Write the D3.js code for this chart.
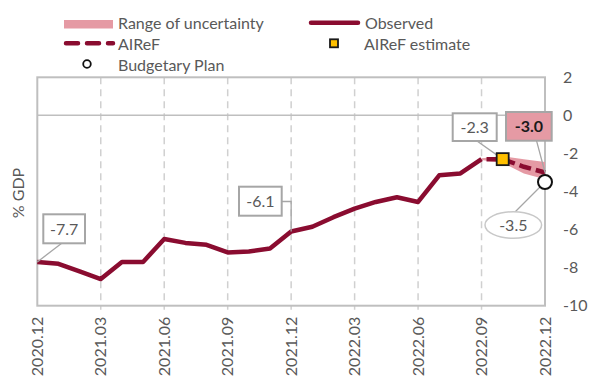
<!DOCTYPE html>
<html>
<head>
<meta charset="utf-8">
<script src="https://cdn.jsdelivr.net/npm/d3@7/dist/d3.min.js"></script>
<style>
  html, body { margin: 0; padding: 0; background: #fff; }
  svg { display: block; font-family: Lato, "Open Sans", sans-serif; }
</style>
</head>
<body>
<svg id="chart" width="590" height="378"></svg>
<script>
// Monthly general government balance, % of GDP
const months = ["2020.12","2021.01","2021.02","2021.03","2021.04","2021.05","2021.06",
  "2021.07","2021.08","2021.09","2021.10","2021.11","2021.12","2022.01","2022.02",
  "2022.03","2022.04","2022.05","2022.06","2022.07","2022.08","2022.09","2022.10",
  "2022.11","2022.12"];
const tickMonths = ["2020.12","2021.03","2021.06","2021.09","2021.12","2022.03","2022.06","2022.09","2022.12"];
const yTicks = [2, 0, -2, -4, -6, -8, -10];

const observed = [-7.7,-7.8,-8.2,-8.6,-7.7,-7.7,-6.5,-6.7,-6.8,-7.2,-7.15,-7.0,-6.1,
  -5.85,-5.35,-4.9,-4.55,-4.3,-4.55,-3.15,-3.05,-2.3];
const aireffMonths = ["2022.09","2022.10","2022.11","2022.12"];
const aireff = [-2.3, -2.3, -2.7, -3.0];
const bandHigh = [-2.25, -2.15, -2.3, -2.45];
const bandLow = [-2.35, -2.5, -3.05, -3.35];
const estimateMonth = "2022.10";
const estimateValue = -2.3;
const planMonth = "2022.12";
const planValue = -3.5;

const C = {
  line: "#8a0c30", band: "#e59aa4", grid: "#d0d0d0", frame: "#bfbfbf",
  text: "#595959", box: "#a6a6a6", yellow: "#ffc000"
};

// one decimal, plain hyphen for negatives
const fmt = v => v.toFixed(1);

const svg = d3.select("#chart");
const x = d3.scalePoint().domain(months).range([37.3, 545]);
const y = d3.scaleLinear().domain([-10, 2]).range([305.7, 77.3]);
const [x0, x1] = x.range();

// vertical quarterly gridlines
svg.append("g").selectAll("line")
  .data(tickMonths.slice(1, -1)).join("line")
  .attr("x1", d => x(d)).attr("x2", d => x(d))
  .attr("y1", y(2)).attr("y2", y(-10) + 4)
  .attr("stroke", C.grid).attr("stroke-width", 1.5).attr("stroke-dasharray", "7,5");

// zero line
svg.append("line").attr("x1", x0).attr("x2", x1)
  .attr("y1", y(0)).attr("y2", y(0))
  .attr("stroke", C.frame).attr("stroke-width", 1.5);

// frame
svg.append("rect").attr("x", x0).attr("y", y(2))
  .attr("width", x1 - x0).attr("height", y(-10) - y(2))
  .attr("fill", "none").attr("stroke", C.frame).attr("stroke-width", 2);

// right y axis labels
svg.append("g").selectAll("text").data(yTicks).join("text")
  .attr("x", 563).attr("y", d => y(d)).attr("dy", "0.35em")
  .attr("font-size", 16).attr("fill", C.text).text(d => String(d));

// x axis labels (rotated)
svg.append("g").selectAll("text").data(tickMonths).join("text")
  .attr("transform", d => `translate(${x(d)},${y(-10) + 11}) rotate(-90)`)
  .attr("text-anchor", "end").attr("dy", "0.35em")
  .attr("font-size", 16).attr("fill", C.text).text(d => d);

// y title
svg.append("text").attr("transform", "translate(18,193) rotate(-90)")
  .attr("text-anchor", "middle").attr("dy", "0.35em")
  .attr("font-size", 16).attr("fill", C.text).text("% GDP");

// uncertainty band
const bandData = aireffMonths.map((m, i) => ({ m, lo: bandLow[i], hi: bandHigh[i] }));
svg.append("path").datum(bandData)
  .attr("fill", C.band)
  .attr("d", d3.area().x(d => x(d.m)).y0(d => y(d.lo)).y1(d => y(d.hi)));

// observed line
svg.append("path").datum(observed)
  .attr("fill", "none").attr("stroke", C.line).attr("stroke-width", 4.5)
  .attr("stroke-linejoin", "round")
  .attr("d", d3.line().x((d, i) => x(months[i])).y(d => y(d)));

// AIReF projection line
svg.append("path").datum(aireff)
  .attr("fill", "none").attr("stroke", C.line).attr("stroke-width", 4.5)
  .attr("stroke-dasharray", "12,5").attr("stroke-dashoffset", 12)
  .attr("d", d3.line().x((d, i) => x(aireffMonths[i])).y(d => y(d)));

// leader lines
const lead = (pts, color) => svg.append("polyline")
  .attr("points", pts.map(p => p.join(",")).join(" "))
  .attr("fill", "none").attr("stroke", color || C.box).attr("stroke-width", 1.3);

lead([[61.7, 243.3], [x(months[0]), y(observed[0])]]);
lead([[281.7, 201.5], [x(months[12]), 201.5], [x(months[12]), y(observed[12])]]);
lead([[477, 141], [x(estimateMonth), y(estimateValue)]]);
lead([[536.5, 140.7], [x("2022.12"), y(aireff[3])]]);
lead([[515, 212], [x(planMonth), y(planValue)]]);

// estimate marker
svg.append("rect")
  .attr("x", x(estimateMonth) - 6).attr("y", y(estimateValue) - 6)
  .attr("width", 12).attr("height", 12)
  .attr("fill", C.yellow).attr("stroke", "#1a1a1a").attr("stroke-width", 1.8);

// budgetary plan marker
svg.append("circle").attr("cx", x(planMonth)).attr("cy", y(planValue)).attr("r", 7)
  .attr("fill", "#fff").attr("stroke", "#111").attr("stroke-width", 2);

// value boxes
function box(bx, by, w, h, txt, opts = {}) {
  svg.append("rect").attr("x", bx).attr("y", by).attr("width", w).attr("height", h)
    .attr("fill", opts.fill || "#fff").attr("stroke", C.box).attr("stroke-width", 2);
  svg.append("text").attr("x", bx + w / 2).attr("y", by + h / 2).attr("dy", "0.36em")
    .attr("text-anchor", "middle").attr("font-size", 16)
    .attr("font-weight", opts.bold ? 700 : 400)
    .attr("fill", opts.bold ? "#1a1a1a" : C.text).text(txt);
}
box(43.3, 214.3, 41.7, 29, fmt(observed[0]));
box(239, 186.7, 42.7, 29, fmt(observed[12]));
box(452.7, 113.3, 44, 27.7, fmt(estimateValue));
box(506, 112, 45.7, 28.7, fmt(aireff[3]), { fill: C.band, bold: true });

// budgetary plan label in ellipse
svg.append("ellipse").attr("cx", 513.3).attr("cy", 225).attr("rx", 28.3).attr("ry", 13.3)
  .attr("fill", "#fff").attr("stroke", "#c8c8c8").attr("stroke-width", 1.5);
svg.append("text").attr("x", 513.3).attr("y", 225).attr("dy", "0.36em")
  .attr("text-anchor", "middle").attr("font-size", 16).attr("fill", C.text)
  .text(fmt(planValue));

// legend
const lg = svg.append("g").attr("font-size", 16).attr("fill", C.text);
lg.append("rect").attr("x", 64).attr("y", 20).attr("width", 49).attr("height", 8.5).attr("fill", C.band);
lg.append("text").attr("x", 118).attr("y", 29).text("Range of uncertainty");
lg.append("line").attr("x1", 311).attr("x2", 358).attr("y1", 22.7).attr("y2", 22.7)
  .attr("stroke", C.line).attr("stroke-width", 4.5).attr("stroke-linecap", "round");
lg.append("text").attr("x", 365).attr("y", 29).text("Observed");
lg.append("line").attr("x1", 66).attr("x2", 113).attr("y1", 43.3).attr("y2", 43.3)
  .attr("stroke", C.line).attr("stroke-width", 4.5).attr("stroke-linecap", "round")
  .attr("stroke-dasharray", "12,9");
lg.append("text").attr("x", 118).attr("y", 50).text("AIReF");
lg.append("rect").attr("x", 330).attr("y", 39.3).attr("width", 8).attr("height", 8)
  .attr("fill", C.yellow).attr("stroke", "#1a1a1a").attr("stroke-width", 1.8);
lg.append("text").attr("x", 364).attr("y", 50).text("AIReF estimate");
lg.append("circle").attr("cx", 87).attr("cy", 64).attr("r", 3.8)
  .attr("fill", "#fff").attr("stroke", "#111").attr("stroke-width", 1.8);
lg.append("text").attr("x", 118).attr("y", 70.5).text("Budgetary Plan");
</script>
</body>
</html>
